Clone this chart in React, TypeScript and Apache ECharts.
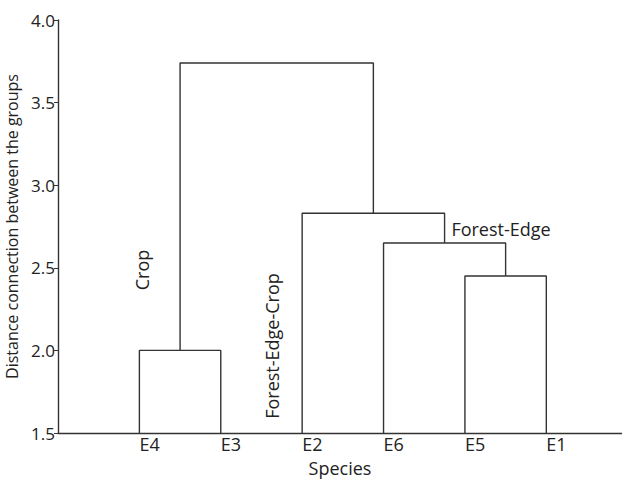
import React, { useEffect, useRef } from "react";
import * as echarts from "echarts";

const leaves = ["E4", "E3", "E2", "E6", "E5", "E1"];
// merges: [leftX, leftH, rightX, rightH, height]
const mergeNames = ["E4-E3", "E5-E1", "E6-(E5,E1)", "E2-(...)", "root"];
const mergeLeftX = [1, 5, 4, 3, 1.5];
const mergeLeftH = [1.5, 1.5, 1.5, 1.5, 2.0];
const mergeRightX = [2, 6, 5.5, 4.75, 3.875];
const mergeRightH = [1.5, 1.5, 2.45, 2.65, 2.83];
const mergeHeight = [2.0, 2.45, 2.65, 2.83, 3.74];
const yTicks = [1.5, 2.0, 2.5, 3.0, 3.5, 4.0];

const FONT = "Open Sans";

export default function App() {
  const ref = useRef<HTMLDivElement>(null);
  useEffect(() => {
    if (!ref.current) return;
    const chart = echarts.init(ref.current, null, { renderer: "svg" });
    const series: any[] = mergeNames.map((n, i) => ({
      name: n,
      type: "line",
      symbol: "none",
      silent: true,
      lineStyle: { color: "#333", width: 1.4 },
      data: [
        [mergeLeftX[i], mergeLeftH[i]],
        [mergeLeftX[i], mergeHeight[i]],
        [mergeRightX[i], mergeHeight[i]],
        [mergeRightX[i], mergeRightH[i]],
      ],
    }));
    chart.setOption({
      animation: false,
      grid: { left: 58, right: 0, top: 20, bottom: 47, containLabel: false, outerBoundsMode: "none" },
      xAxis: {
        type: "value",
        min: 0,
        max: 6.93,
        interval: 1,
        name: "Species",
        nameLocation: "middle",
        nameGap: 26,
        nameTextStyle: { fontFamily: FONT, fontSize: 18, color: "#222" },
        axisLine: { lineStyle: { color: "#333", width: 1.4 } },
        axisTick: { show: false },
        splitLine: { show: false },
        axisLabel: {
          fontFamily: FONT,
          fontSize: 18,
          color: "#222",
          margin: 2,
          align: "left",
          formatter: (v: number) => {
            const i = Math.round(v);
            if (Math.abs(v - i) > 1e-6 || i < 1 || i > leaves.length) return "";
            return leaves[i - 1];
          },
        },
      },
      yAxis: {
        type: "value",
        min: yTicks[0],
        max: yTicks[yTicks.length - 1],
        interval: 0.5,
        name: "Distance connection between the groups",
        nameLocation: "middle",
        nameGap: 29,
        nameTextStyle: { fontFamily: FONT, fontSize: 16, color: "#222" },
        axisLine: { show: true, lineStyle: { color: "#333", width: 1.4 } },
        axisTick: { show: true, length: 4, lineStyle: { color: "#333" } },
        splitLine: { show: false },
        axisLabel: {
          fontFamily: FONT,
          fontSize: 17,
          color: "#222",
          margin: 3,
          formatter: (v: number) => v.toFixed(1),
        },
      },
      graphic: [
        {
          type: "text",
          x: 142,
          y: 270,
          rotation: Math.PI / 2,
          style: {
            text: "Crop",
            fontFamily: FONT,
            fontSize: 18,
            fill: "#222",
            align: "center",
            verticalAlign: "middle",
          },
        },
        {
          type: "text",
          x: 272,
          y: 346,
          rotation: Math.PI / 2,
          style: {
            text: "Forest-Edge-Crop",
            fontFamily: FONT,
            fontSize: 18,
            fill: "#222",
            align: "center",
            verticalAlign: "middle",
          },
        },
        {
          type: "text",
          x: 501,
          y: 229,
          style: {
            text: "Forest-Edge",
            fontFamily: FONT,
            fontSize: 18,
            fill: "#222",
            align: "center",
            verticalAlign: "middle",
          },
        },
      ],
      series,
    });
    return () => chart.dispose();
  }, []);
  return (
    <div
      ref={ref}
      style={{ position: "fixed", left: 0, top: 0, width: 622, height: 480, background: "#fff" }}
    />
  );
}
